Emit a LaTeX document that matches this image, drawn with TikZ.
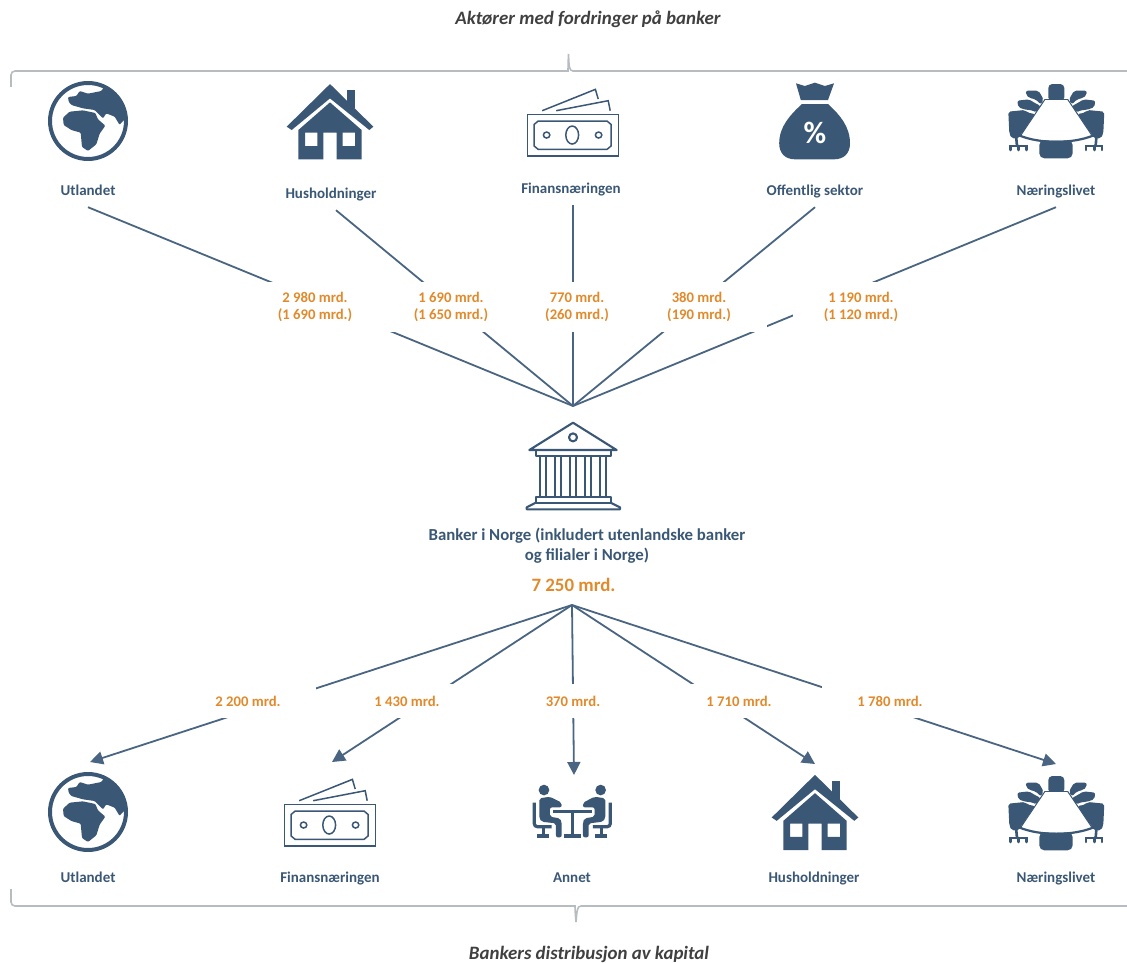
\documentclass[tikz,border=0pt]{standalone}
\usepackage{fontspec}
\setmainfont{Carlito}
\usepackage{tikz}
\usetikzlibrary{arrows.meta}

\definecolor{navy}{HTML}{3A5775}
\definecolor{wire}{HTML}{4A6582}
\definecolor{amber}{HTML}{E28A2B}
\definecolor{brace}{HTML}{B7BCC1}

\tikzset{
	pics/globe/.style={code={
		\begin{scope}[x=0.3333pt,y=-0.3333pt]
			\draw[navy,line width=4pt] (0,0) circle (114);
			\fill[navy,rounded corners=1pt] (-75,-10) -- (-55,-28) -- (-15,-32) -- (22,-24) -- (30,-5) -- (52,14) -- (35,38) -- (25,70) -- (0,90) -- (-18,78) -- (-22,35) -- (-50,27) -- (-73,12) -- cycle;
			\fill[navy,rounded corners=1pt] (-58,-58) -- (-60,-72) -- (-35,-75) -- (-25,-90) -- (0,-82) -- (40,-90) -- (50,-105) -- (85,-75) -- (105,-45) -- (116,-10) -- (100,5) -- (95,12) -- (80,-13) -- (55,-23) -- (45,-8) -- (20,-33) -- (-15,-38) -- (-50,-48) -- cycle;
		\end{scope}
	}},
	pics/house/.style={code={
		\begin{scope}[x=0.3333pt,y=-0.3333pt,shift={(-990,-215)}]
			\fill[navy] (1042,120) rectangle (1065,175);
			\fill[navy] (860,230) -- (990,102) -- (1120,230) -- (1108,240) -- (990,145) -- (875,240) -- cycle;
			\fill[navy,even odd rule] (895,240) -- (990,157) -- (1085,240) -- (1085,328) -- (1010,328) -- (1010,248) -- (970,248) -- (970,328) -- (895,328) -- cycle
				(915,248) rectangle (952,288) (1028,248) rectangle (1065,288);
		\end{scope}
	}},
	pics/money/.style={code={
		\begin{scope}[x=0.4pt,y=-0.3333pt,shift={(-182,-218)},draw=navy,line width=1.5pt]
			\draw (105,182) -- (238,118) -- (245,147);
			\draw (140,182) -- (270,152) -- (275,182);
			\draw (68,193) rectangle (296,318);
			\draw (95,213) -- (267,213) -- (277,223) -- (277,288) -- (267,298) -- (95,298) -- (85,288) -- (85,223) -- cycle;
			\draw (180,255) ellipse (16 and 27);
			\draw (116,255) ellipse (8 and 9);
			\draw (246,255) ellipse (8 and 9);
		\end{scope}
	}},
	pics/bag/.style={code={
		\begin{scope}[x=0.4pt,y=-0.3333pt,shift={(-787,-213)}]
			\fill[navy] (740,100) -- (762,108) -- (787,98) -- (812,108) -- (835,100) -- (820,150) -- (752,150) -- cycle;
			\fill[navy] (755,162) -- (820,162) .. controls (850,195) and (875,230) .. (875,280) .. controls (875,310) and (860,328) .. (835,328) -- (738,328) .. controls (713,328) and (698,310) .. (698,280) .. controls (698,230) and (725,195) .. (755,162) -- cycle;
			\node(pct)[text=white,inner sep=0pt,font=\fontsize{31}{31}\selectfont\bfseries] at (787,250) {\%};
		\end{scope}
	}},
	pics/boardroom/.style={code={
		\begin{scope}[x=0.3333pt,y=-0.3333pt]
			\foreach \s in {1,-1} {
				\begin{scope}[xscale=\s]
					\fill[navy,rounded corners=2pt] (-91,-88) -- (-54,-88) -- (-47,-78) -- (-38,-60) -- (-47,-47) -- (-62,-62) -- (-80,-66) -- (-91,-75) -- cycle;
					\fill[navy,rounded corners=2pt] (-117,-58) -- (-82,-62) -- (-66,-52) -- (-47,-42) -- (-60,-22) -- (-74,-30) -- (-89,-30) -- (-114,-38) -- cycle;
					\fill[navy,rounded corners=2pt] (-144,-25) -- (-94,-30) -- (-86,-22) -- (-64,-18) -- (-100,36) -- (-109,45) -- (-111,55) -- (-134,55) -- (-141,40) -- cycle;
					\draw[navy,line width=2.6pt,line cap=round] (-120,55) -- (-118,78);
					\draw[navy,line width=2.6pt,line cap=round] (-137,90) -- (-137,78) -- (-89,78) -- (-89,90);
					\draw[navy,line width=2.6pt,line cap=round] (-114,78) -- (-114,90);
				\end{scope}
			}
			\fill[navy,rounded corners=4pt] (-24,-56) -- (-24,-108) -- (24,-108) -- (24,-56) -- cycle;
			\fill[navy,rounded corners=5pt] (-51,60) -- (49,60) -- (49,115) -- (-51,115) -- cycle;
			\fill[white] (-34,-62) -- (34,-62) -- (106,45) .. controls (50,68) and (-50,68) .. (-106,45) -- cycle;
			\draw[navy,line width=1pt] (-34,-62) -- (-106,45);
			\draw[navy,line width=1pt] (34,-62) -- (106,45);
			\draw[navy,line width=1pt] (-34,-62) -- (34,-62);
			\draw[navy,line width=2.2pt] (-112,46) .. controls (-50,72) and (50,72) .. (112,46);
		\end{scope}
	}},
	pics/meeting/.style={code={
		\begin{scope}[x=0.3333pt,y=-0.3333pt]
			\foreach \s in {1,-1} {
				\begin{scope}[xscale=\s]
					\fill[navy] (-85,-65) circle (16);
					\fill[navy,rounded corners=2pt] (-99,-40) -- (-67,-45) -- (-32,-27) -- (-32,-13) -- (-67,-13) -- (-67,15) -- (-37,20) -- (-32,30) -- (-32,77) -- (-49,77) -- (-49,35) -- (-92,30) -- (-99,20) -- cycle;
					\draw[navy,line width=3.2pt,rounded corners=3pt] (-114,-27) -- (-114,45) -- (-62,45);
					\draw[navy,line width=3pt] (-87,45) -- (-87,73);
					\draw[navy,line width=3.4pt] (-105,73) -- (-69,73);
				\end{scope}
			}
			\draw[navy,line width=3pt] (-57,0) -- (58,0);
			\draw[navy,line width=3.2pt] (0,0) -- (0,73);
			\draw[navy,line width=3.4pt] (-25,73) -- (25,73);
		\end{scope}
	}},
	pics/bank/.style={code={
		\begin{scope}[x=0.3333pt,y=-0.3333pt,shift={(-459,-200)},draw=navy,line width=2.1pt,line join=round]
			\draw (459,68) -- (590,150) -- (328,150) -- cycle;
			\draw (459,112) circle (12);
			\draw (347,150) rectangle (572,168);
			\foreach \c in {360,405,450,495,540} {
				\draw (\c,168) rectangle (\c+18,290);
			}
			\draw (347,290) rectangle (572,308);
			\draw (347,308) -- (320,322) -- (320,328) -- (600,328) -- (600,322) -- (572,308);
		\end{scope}
	}},
}

\begin{document}
\begin{tikzpicture}[x=1pt,y=-1pt]
		\useasboundingbox (0,0) rectangle (1127,963);
		\begin{scope}
			[
				styleTitle/.style={text=black!75,inner sep=0pt,font=\fontsize{18.9}{20}\selectfont\bfseries\itshape},
				styleActor/.style={text=navy,inner sep=0pt,minimum height=32pt,text height=11.5pt,text depth=2.5pt,font=\fontsize{15}{17}\selectfont\bfseries},
				styleBank/.style={text=navy,inner sep=0pt,align=center,font=\fontsize{16.8}{20}\selectfont\bfseries},
				styleTotal/.style={text=amber,inner sep=0pt,font=\fontsize{18.9}{20}\selectfont\bfseries},
				styleBrace/.style={brace,line width=1.6pt,rounded corners=4pt},
			]
			\node(titleTop)[styleTitle] at (588,19) {Aktører med fordringer på banker};
			\node(titleLow)[styleTitle] at (589,954) {Bankers distribusjon av kapital};

			\node(utl)[styleActor] at (88,191) {Utlandet};
			\node(hus)[styleActor] at (331,194) {Husholdninger};
			\node(fin)[styleActor] at (571,189) {Finansnæringen};
			\node(off)[styleActor] at (815,191) {Offentlig sektor};
			\node(nar)[styleActor] at (1056,191) {Næringslivet};

			\node(utlLow)[styleActor] at (88,878) {Utlandet};
			\node(finLow)[styleActor] at (330,878) {Finansnæringen};
			\node(ann)[styleActor] at (572,878) {Annet};
			\node(husLow)[styleActor] at (814,878) {Husholdninger};
			\node(narLow)[styleActor] at (1056,878) {Næringslivet};

			\node(bankName)[styleBank] at (587,546) {Banker i Norge (inkludert utenlandske banker\\og filialer i Norge)};
			\node(bankSum)[styleTotal] at (573.5,585) {7 250 mrd.};

			\coordinate(bankTop) at (573,406);
			\coordinate(bankLow) at (572,605);
			\coordinate(tipUtl) at (90,762);
			\coordinate(tipFin) at (332,762);
			\coordinate(tipAnn) at (574,775);
			\coordinate(tipHus) at (815,764);
			\coordinate(tipNar) at (1056,764);

			\draw[styleBrace] (11,87) -- (11,71) -- (564,71) [sharp corners] .. controls (568,71) and (568,66) .. (568.5,54) .. controls (569,66) and (569,71) .. (573,71) -- (1127,71);
			\draw[styleBrace] (11,889) -- (11,906) -- (571,906) [sharp corners] .. controls (575,906) and (575,911) .. (576,922) .. controls (577,911) and (577,906) .. (581,906) -- (1127,906);
		\end{scope}
		\begin{scope}
			[draw=wire,line width=1.8pt]
			\path
			(utl.south) edge (bankTop)
			([xshift=5pt]hus.south) edge (bankTop)
			([xshift=2pt]fin.south) edge (bankTop)
			(off.south) edge (bankTop)
			(nar.south) edge (bankTop);
		\end{scope}
		\begin{scope}
			[draw=wire,line width=1.8pt,-{Triangle[length=13pt,width=13pt]}]
			\path
			(bankLow) edge (tipUtl)
			(bankLow) edge (tipFin)
			(bankLow) edge (tipAnn)
			(bankLow) edge (tipHus)
			(bankLow) edge (tipNar);
		\end{scope}
		\begin{scope}
			[
				styleValue/.style={text=amber,fill=white,inner sep=0pt,minimum width=136pt,align=center,font=\fontsize{14.7}{17}\selectfont\bfseries},
				styleTop/.style={styleValue,minimum height=50pt},
				styleLow/.style={styleValue,minimum height=34pt},
			]
			\node(valUtl)[styleTop] at (315,306.5) {2 980 mrd.\\(1 690 mrd.)};
			\node(valHus)[styleTop] at (451,306.5) {1 690 mrd.\\(1 650 mrd.)};
			\node(valFin)[styleTop] at (577,306.5) {770 mrd.\\(260 mrd.)};
			\node(valOff)[styleTop] at (699,306.5) {380 mrd.\\(190 mrd.)};
			\node(valNar)[styleTop] at (861,306.5) {1 190 mrd.\\(1 120 mrd.)};

			\node(lowUtl)[styleLow] at (248,701) {2 200 mrd.};
			\node(lowFin)[styleLow] at (407,701) {1 430 mrd.};
			\node(lowAnn)[styleLow] at (573,701) {370 mrd.};
			\node(lowHus)[styleLow] at (739,701) {1 710 mrd.};
			\node(lowNar)[styleLow] at (890,701) {1 780 mrd.};
		\end{scope}

		\pic(icoUtl) at (88,121) {globe};
		\pic(icoHus) at (330,121.7) {house};
		\pic(icoFin) at (573,122.7) {money};
		\pic(icoOff) at (814.8,121) {bag};
		\pic(icoNar) at (1056.3,120) {boardroom};

		\pic(icoBank) at (573,466.7) {bank};

		\pic(icoUtlLow) at (88,812) {globe};
		\pic(icoFinLow) at (330,812.7) {money};
		\pic(icoAnn) at (572.3,811.7) {meeting};
		\pic(icoHusLow) at (815,812.5) {house};
		\pic(icoNarLow) at (1056.3,812) {boardroom};
\end{tikzpicture}
\end{document}
